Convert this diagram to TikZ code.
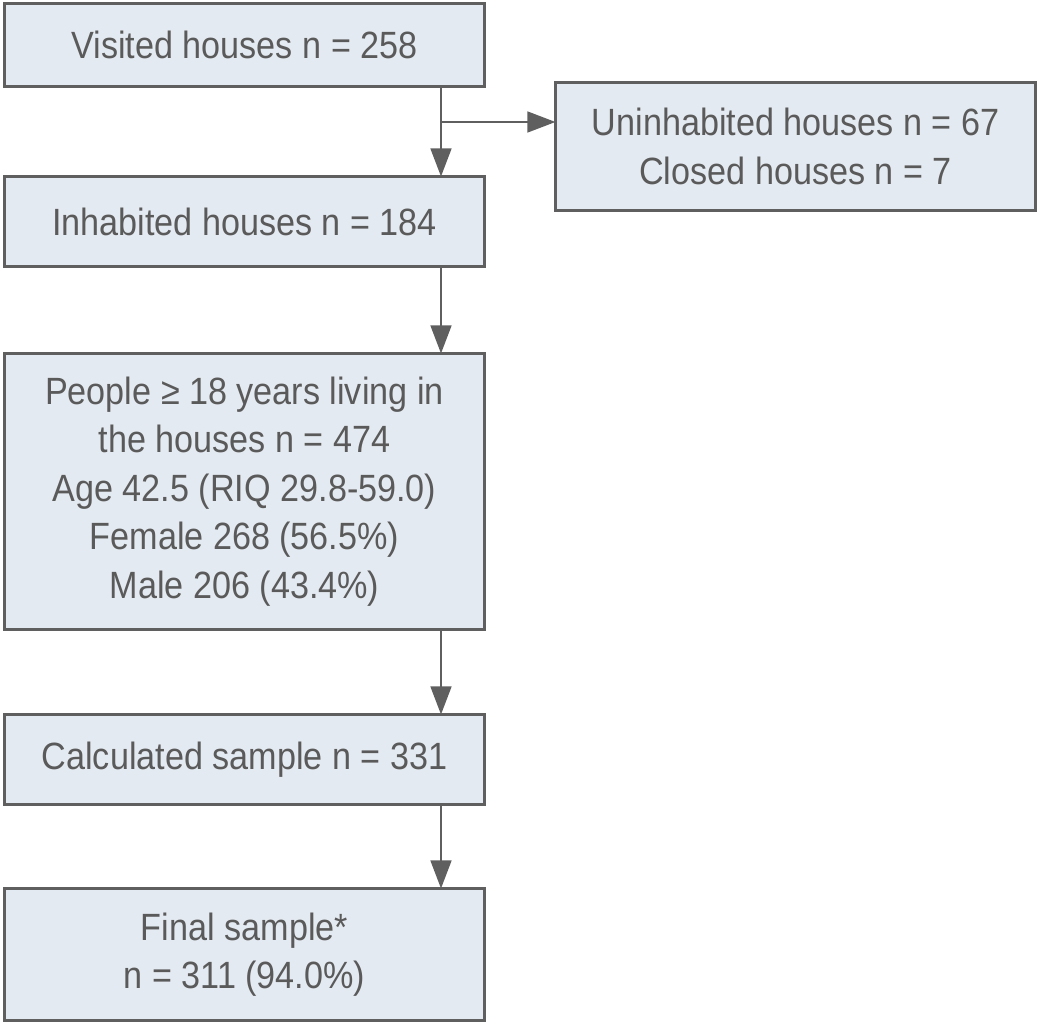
\documentclass[tikz,border=0pt]{standalone}
\usepackage{fontspec}
\setmainfont{Liberation Sans}[FakeStretch=0.9]
\usetikzlibrary{arrows.meta}

\definecolor{boxfill}{HTML}{E4EAF1}
\definecolor{boxline}{HTML}{5F5F5F}
\definecolor{boxtext}{HTML}{5A5A5A}

\tikzset{
	flowbox/.style={draw=boxline,fill=boxfill,line width=2.2pt,text=boxtext,align=center,inner sep=0,outer sep=0,minimum width=12.0cm,font=\fontsize{27}{34.5}\selectfont},
	flowarrow/.style={draw=boxline,line width=1.5pt,-{Triangle[length=0.7cm,width=0.52cm]}}
}

\begin{document}
\begin{tikzpicture}[x=0.025cm,y=-0.025cm]
	\useasboundingbox (0,0) rectangle (1040,1024);
	\node[flowbox,minimum height=2.08cm] (visited) at (244.5,45) {Visited houses n = 258};
	\node[flowbox,minimum height=3.2cm] (uninhab) at (795.5,146.5) {Uninhabited houses n = 67\\Closed houses n = 7};
	\node[flowbox,minimum height=2.25cm] (inhab) at (244.5,221.5) {Inhabited houses n = 184};
	\node[flowbox,minimum height=6.9cm] (people) at (244.5,491.5) {People ≥ 18 years living in\\the houses n = 474\\Age 42.5 (RIQ 29.8-59.0)\\Female 268 (56.5\%)\\Male 206 (43.4\%)};
	\node[flowbox,minimum height=2.25cm] (calc) at (244.5,759.5) {Calculated sample n = 331};
	\node[flowbox,minimum height=3.3cm] (final) at (244.5,954.5) {Final sample*\\n = 311 (94.0\%)};
	\coordinate (split) at (441,122);
	\draw[flowarrow] (visited.south -| split) -- (inhab.north -| split);
	\draw[flowarrow] (split) -- (uninhab.west |- split);
	\draw[flowarrow] (inhab.south -| split) -- (people.north -| split);
	\draw[flowarrow] (people.south -| split) -- (calc.north -| split);
	\draw[flowarrow] (calc.south -| split) -- (final.north -| split);
\end{tikzpicture}
\end{document}
